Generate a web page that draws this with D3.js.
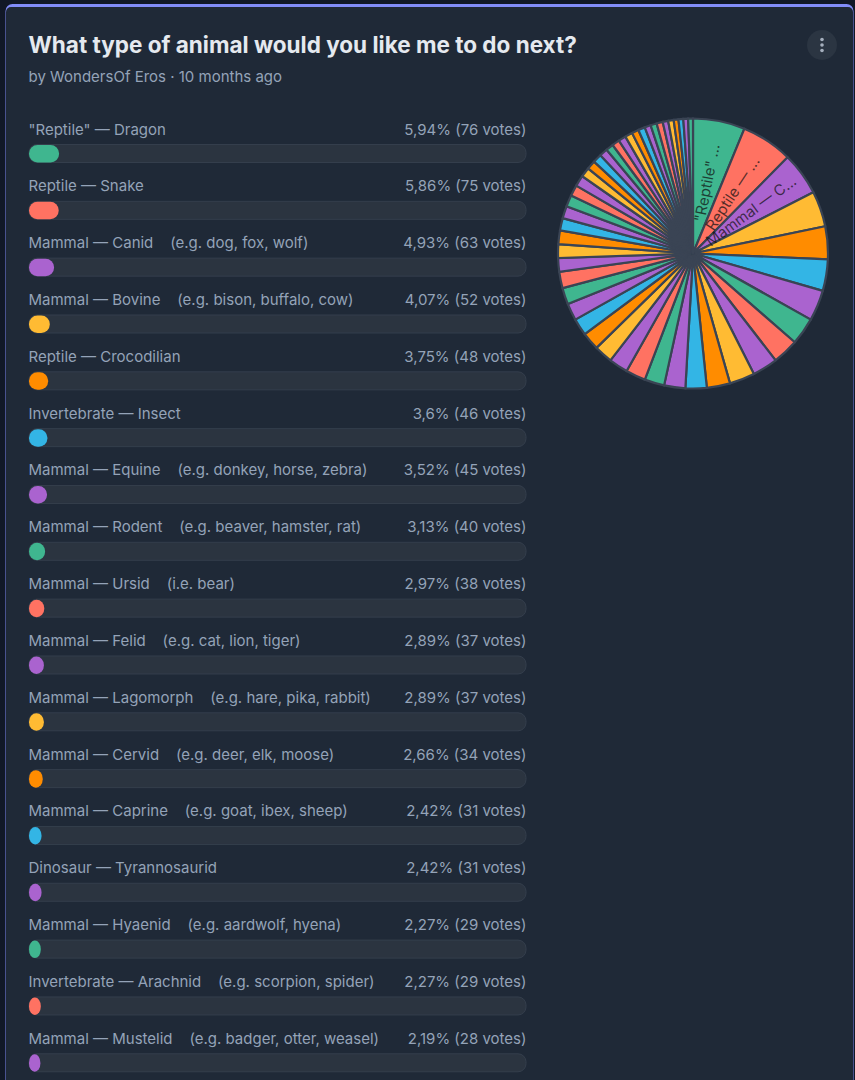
<!DOCTYPE html>
<html><head><meta charset="utf-8">
<script src="https://cdn.jsdelivr.net/npm/d3@7"></script>
<style>html,body{margin:0;padding:0;background:#111827;overflow:hidden}svg{display:block}text{font-family:Inter,sans-serif}</style>
</head><body><svg id="c" width="855" height="1080"></svg>
<script>
const titleText = "What type of animal would you like me to do next?";
const subtitleText = "by WondersOf Eros · 10 months ago";
const gap = "\u00a0\u00a0\u00a0\u00a0";
const categories = ['"Reptile" — Dragon','Reptile — Snake','Mammal — Canid'+gap+'(e.g. dog, fox, wolf)','Mammal — Bovine'+gap+'(e.g. bison, buffalo, cow)','Reptile — Crocodilian','Invertebrate — Insect','Mammal — Equine'+gap+'(e.g. donkey, horse, zebra)','Mammal — Rodent'+gap+'(e.g. beaver, hamster, rat)','Mammal — Ursid'+gap+'(i.e. bear)','Mammal — Felid'+gap+'(e.g. cat, lion, tiger)','Mammal — Lagomorph'+gap+'(e.g. hare, pika, rabbit)','Mammal — Cervid'+gap+'(e.g. deer, elk, moose)','Mammal — Caprine'+gap+'(e.g. goat, ibex, sheep)','Dinosaur — Tyrannosaurid','Mammal — Hyaenid'+gap+'(e.g. aardwolf, hyena)','Invertebrate — Arachnid'+gap+'(e.g. scorpion, spider)','Mammal — Mustelid'+gap+'(e.g. badger, otter, weasel)'];
const percents = [5.94,5.86,4.93,4.07,3.75,3.6,3.52,3.13,2.97,2.89,2.89,2.66,2.42,2.42,2.27,2.27,2.19];
const votes = [76,75,63,52,48,46,45,40,38,37,37,34,31,31,29,29,28];
// Slices of the pie beyond the rows visible in the picture
const moreVotes = [27,26,25,25,24,24,20,20,20,18,18,17,16,16,14,13,13,12,11,11,11,11,10,10,9,9,9,8,8,7,7,7,7];
const pieLabels = ['"Reptile" ...','Reptile — ...','Mammal — C...'];
const palette = ["#3fb68f","#ff7262","#aa63cf","#ffbb33","#ff8c00","#33b5e5","#aa63cf"];

const svg = d3.select("#c");
// card
svg.append("rect").attr("x",5.5).attr("y",4).attr("width",848).attr("height",1100).attr("rx",7).attr("fill","#818cf8");
svg.append("rect").attr("x",6).attr("y",7).attr("width",847).attr("height",1100).attr("rx",5).attr("fill","#1f2937");

svg.append("text").attr("x",28.5).attr("y",53).attr("fill","#e5e9ef").attr("font-size",22.5).attr("font-weight",700).text(titleText);
svg.append("text").attr("x",28.5).attr("y",81.5).attr("fill","#94a3b8").attr("font-size",15).text(subtitleText);

// menu button
svg.append("circle").attr("cx",822).attr("cy",45).attr("r",15).attr("fill","#2b3542");
svg.selectAll("circle.dot").data([-5.5,0,5.5]).join("circle").attr("class","dot").attr("cx",822).attr("cy",d=>45+d).attr("r",1.8).attr("fill","#a5afbd");

// rows
const x = d3.scaleLinear().domain([0,100]).range([0,498]);
const y = d3.scaleBand().domain(d3.range(categories.length)).range([115,115+56.83*categories.length]);
const color = i => palette[i % palette.length];
const rows = svg.selectAll("g.row").data(categories).join("g").attr("class","row").attr("transform",(d,i)=>`translate(29,${y(i)})`);
rows.append("text").attr("x",-0.5).attr("y",19.5).attr("fill","#94a3b8").attr("font-size",15).text(d=>d);
rows.append("text").attr("x",497.5).attr("y",19.5).attr("text-anchor","end").attr("fill","#94a3b8").attr("font-size",15)
  .text((d,i)=>`${String(percents[i]).replace(".",",")}% (${votes[i]} votes)`);
rows.append("rect").attr("x",0).attr("y",29.5).attr("width",x(100)-1).attr("height",18).attr("rx",8).attr("fill","#2b3440").attr("stroke","#343e4c");
rows.append("rect").attr("x",0).attr("y",30).attr("width",(d,i)=>x(percents[i])+0.5).attr("height",17.5).attr("rx",8.5).attr("fill",(d,i)=>color(i));

// pie
const pieVals = votes.concat(moreVotes);
const arcs = d3.pie().sort(null)(pieVals);
const R = 135;
const arc = d3.arc().innerRadius(0).outerRadius(R);
const g = svg.append("g").attr("transform","translate(693,253.5)");
g.selectAll("path").data(arcs).join("path").attr("d",arc).attr("fill",(d,i)=>color(i)).attr("stroke","#3a4454").attr("stroke-width",2.2);
g.selectAll("text").data(arcs.slice(0,pieLabels.length)).join("text")
  .attr("transform",d=>{const a=(d.startAngle+d.endAngle)/2*180/Math.PI; return `rotate(${a-90}) translate(72,0)`;})
  .attr("text-anchor","middle").attr("dy","0.35em").attr("font-size",15).attr("fill","#111").attr("fill-opacity",0.72)
  .text((d,i)=>pieLabels[i]);
</script></body></html>
